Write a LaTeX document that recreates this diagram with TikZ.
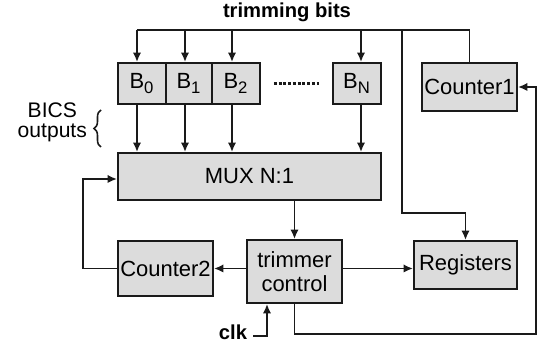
\documentclass[tikz,border=0pt]{standalone}
\usepackage{fontspec}
\setmainfont{Liberation Sans}
\usetikzlibrary{arrows.meta,positioning,calc,decorations.pathreplacing}
\definecolor{boxfill}{HTML}{DCDCDC}
\definecolor{boxline}{HTML}{1A1A1A}
\newcommand{\idx}[1]{\textsubscript{\fontsize{9.5}{10}\selectfont #1}}

\begin{document}
\begin{tikzpicture}[x=0.2mm,y=-0.2mm,
    blk/.style={draw=boxline,fill=boxfill,line width=1.1pt,inner sep=0pt,
                font=\fontsize{12.5}{13.6}\selectfont,align=center},
    cell/.style={blk,minimum height=8.2mm},
    wire/.style={draw=boxline,line width=1.1pt},
    arr/.style={wire,-{Latex[length=1.9mm,width=1.7mm]}}]
  \useasboundingbox (0,0) rectangle (537,343);

  % storage cells and blocks
  \node[cell,minimum width=9.6mm] (b0) at (142,83.5) {B\idx{0}};
  \node[cell,minimum width=9.2mm] (b1) at (189,83.5) {B\idx{1}};
  \node[cell,minimum width=9.6mm] (b2) at (236,83.5) {B\idx{2}};
  \node[cell,minimum width=9.6mm] (bn) at (357,83.5) {B\idx{N}};
  \node[blk,minimum width=19mm,minimum height=9.6mm] (c1) at (469.5,87) {Counter1};
  \node[blk,minimum width=52.6mm,minimum height=9.4mm] (mux) at (249.5,176.5) {MUX N:1};
  \node[blk,minimum width=19mm,minimum height=12.6mm] (ctl) at (294.5,271.5) {trimmer\\control};
  \node[blk,minimum width=19mm,minimum height=11mm] (c2) at (165.5,268.5) {Counter2};
  \node[blk,minimum width=20.6mm,minimum height=9.6mm] (reg) at (465.5,265) {Registers};

  \draw[boxline,line width=1.3pt,dash pattern=on 1.6pt off 1.1pt,
        shorten <=2.6mm,shorten >=2.2mm] (b2.east) -- (bn.west);

  % labels
  \node[font=\bfseries\fontsize{11.5}{13}\selectfont] (title) at (287,12) {trimming bits};
  \node[font=\fontsize{12}{11.5}\selectfont,align=center,anchor=east,inner sep=1pt]
    (bics) at (89,122) {BICS\\outputs};
  \draw[wire,line width=0.9pt,decorate,decoration={brace,amplitude=4pt}]
    (101,147) -- (101,110);
  \node[font=\bfseries\fontsize{11.5}{13}\selectfont] (clk) at (233,332) {clk};

  % trimming bits bus
  \draw[wire] (137,30) -- (c1.north |- 0,30) -- (c1.north);
  \foreach \n/\x in {b0/137,b1/185,b2/232,bn/361}{
    \coordinate (t\n) at (\x,30);
    \draw[arr] (t\n) -- (t\n |- \n.north);
    \draw[arr] (t\n |- \n.south) -- (t\n |- mux.north);
  }
  \coordinate (treg) at (402,30);
  \coordinate (regbend) at (402,213);
  \draw[arr] (treg) -- (regbend) -| (reg.north);

  % control paths
  \draw[arr] (mux.south -| ctl.north) -- (ctl.north);
  \draw[arr] (ctl.west |- c2) -- (c2.east);
  \draw[arr] (ctl.east |- c2) -- (reg.west |- c2);
  \coordinate (fb2) at (83,179);
  \draw[arr] (c2.west) -| (fb2) -- (fb2 -| mux.west);
  \coordinate (fb1) at (536,334);
  \draw[arr] (ctl.south) |- (fb1) |- (c1.east);
  \coordinate (clkin) at (267,336);
  \draw[arr] (clk.east |- clkin) -- (clkin) -- (clkin |- ctl.south);
\end{tikzpicture}
\end{document}
